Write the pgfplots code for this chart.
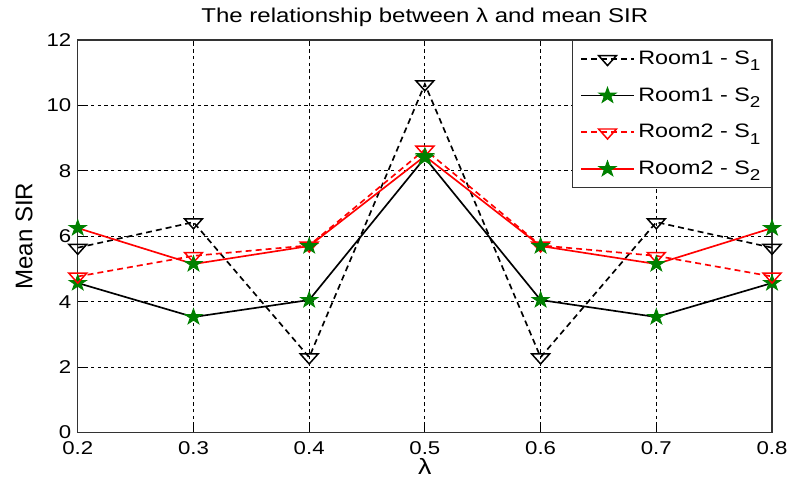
\documentclass[border=0pt]{standalone}
\usepackage{pgfplots}
\pgfplotsset{compat=1.18}
\usepackage{fontspec}
\setmainfont{Liberation Sans}[FakeStretch=1.2]
\newfontfamily\ylfont{Liberation Sans}
\usetikzlibrary{plotmarks}
\pgfdeclareplotmark{pentagram}{%
  \pgfpathmoveto{\pgfpointpolar{90}{1.3\pgfplotmarksize}}%
  \pgfpathlineto{\pgfpointpolar{126}{0.5\pgfplotmarksize}}%
  \pgfpathlineto{\pgfpointpolar{162}{1.3\pgfplotmarksize}}%
  \pgfpathlineto{\pgfpointpolar{198}{0.5\pgfplotmarksize}}%
  \pgfpathlineto{\pgfpointpolar{234}{1.3\pgfplotmarksize}}%
  \pgfpathlineto{\pgfpointpolar{270}{0.5\pgfplotmarksize}}%
  \pgfpathlineto{\pgfpointpolar{306}{1.3\pgfplotmarksize}}%
  \pgfpathlineto{\pgfpointpolar{342}{0.5\pgfplotmarksize}}%
  \pgfpathlineto{\pgfpointpolar{18}{1.3\pgfplotmarksize}}%
  \pgfpathlineto{\pgfpointpolar{54}{0.5\pgfplotmarksize}}%
  \pgfpathclose\pgfusepathqfillstroke}
\definecolor{mgreen}{rgb}{0,0.5,0}
\newcommand{\sub}[1]{\raisebox{-3.5pt}{\fontsize{8.5}{10}\selectfont #1}}
\begin{document}
\begin{tikzpicture}
\begin{axis}[
  scale only axis,
  width=375pt, height=212pt,
  xmin=0.2, xmax=0.8, ymin=0, ymax=12,
  xtick={0.2,0.3,...,0.8},
  ytick={0,2,...,12},
  xticklabels={0.2,0.3,0.4,0.5,0.6,0.7,0.8},
  /pgf/number format/assume math mode=true,
  tick align=inside,
  major tick length=3.5pt,
  tick style={black, line width=0.5pt},
  ticklabel style={font=\fontsize{10}{12}\selectfont},
  xticklabel style={yshift=-1.5pt},
  grid=major,
  major grid style={black, dash pattern=on 1.8pt off 1.8pt, line width=0.45pt},
  axis line style={black!80, line width=0.6pt},
  title={The relationship between λ and mean SIR},
  every axis title/.style={at={(0.5,1)}, yshift=12pt, anchor=center, font=\fontsize{10.8}{12}\selectfont},
  xlabel={λ},
  ylabel={\ylfont Mean SIR},
  every axis x label/.style={at={(0.5,0)}, yshift=-18.5pt, anchor=center, font=\fontsize{12}{14}\selectfont},
  every axis y label/.style={at={(0,0.5)}, xshift=-29pt, rotate=90, anchor=center, font=\fontsize{13}{15}\selectfont},
  legend style={at={(1,1)}, anchor=north east, font=\fontsize{10.5}{12}\selectfont, draw=black!80,
    line width=0.6pt, inner xsep=4pt, inner ysep=3.5pt, row sep=7pt},
  legend cell align=left,
  legend image code/.code={\draw[mark repeat=2,mark phase=2] plot coordinates {(0cm,0cm) (0.5cm,0cm) (1.0cm,0cm)};},
  every axis plot/.append style={line width=0.9pt},
]
\addplot[black, dash pattern=on 3.2pt off 2.2pt, mark=triangle, mark size=3.6pt, mark options={solid, rotate=180, xscale=1.55, fill=white, line width=0.8pt}]
  coordinates {(0.2,5.65) (0.3,6.43) (0.4,2.3) (0.5,10.65) (0.6,2.3) (0.7,6.43) (0.8,5.65)};
\addlegendentry{Room1 - S\sub{1}}
\addplot[black, solid, mark=pentagram, mark size=3.4pt, mark options={solid, xscale=1.1, draw=mgreen, fill=mgreen, line width=0.5pt}]
  coordinates {(0.2,4.57) (0.3,3.53) (0.4,4.05) (0.5,8.4) (0.6,4.05) (0.7,3.53) (0.8,4.57)};
\addlegendentry{Room1 - S\sub{2}}
\addplot[red, dash pattern=on 3.2pt off 2.2pt, mark=triangle, mark size=3.6pt, mark options={solid, rotate=180, xscale=1.55, fill=white, line width=0.8pt}]
  coordinates {(0.2,4.77) (0.3,5.4) (0.4,5.72) (0.5,8.65) (0.6,5.72) (0.7,5.4) (0.8,4.77)};
\addlegendentry{Room2 - S\sub{1}}
\addplot[red, solid, mark=pentagram, mark size=3.4pt, mark options={solid, xscale=1.1, draw=mgreen, fill=mgreen, line width=0.5pt}]
  coordinates {(0.2,6.25) (0.3,5.15) (0.4,5.7) (0.5,8.45) (0.6,5.7) (0.7,5.15) (0.8,6.25)};
\addlegendentry{Room2 - S\sub{2}}
\end{axis}
\path (current axis.south west) ++(-42pt,-28.6pt) coordinate (bl);
\path (current axis.north east) ++(9.7pt,21.6pt) coordinate (tr);
\pgfresetboundingbox
\path[use as bounding box] (bl) rectangle (tr);
\end{tikzpicture}
\end{document}
